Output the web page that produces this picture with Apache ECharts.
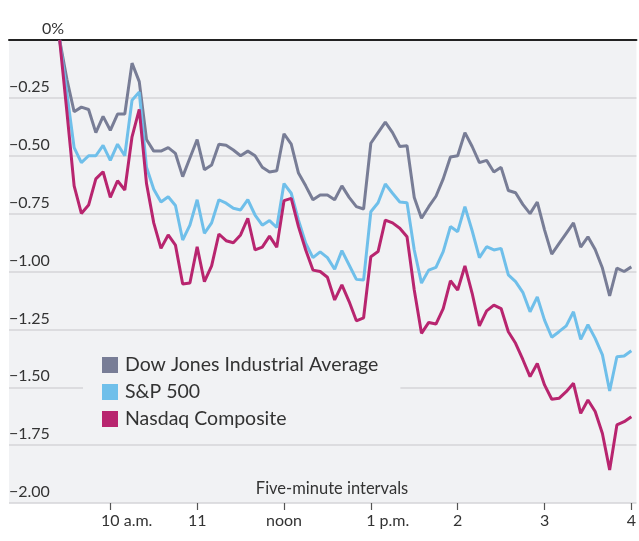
<!DOCTYPE html>
<html>
<head>
<meta charset="utf-8">
<style>
html,body{margin:0;padding:0;background:#fff;}
#chart{width:639px;height:541px;}
</style>
<script src="https://cdn.jsdelivr.net/npm/echarts@6/dist/echarts.min.js"></script>
</head>
<body>
<div id="chart"></div>
<script>
// Five-minute interval index: -1 = previous close, 0 = 9:30, ..., 78 = 4:00 p.m.
const seriesNames = ['Dow Jones Industrial Average', 'S&P 500', 'Nasdaq Composite'];
const dow = [0,-0.17,-0.31,-0.29,-0.30,-0.40,-0.33,-0.39,-0.32,-0.32,
  -0.10,-0.18,-0.43,-0.48,-0.48,-0.465,-0.49,-0.59,-0.51,-0.43,
  -0.56,-0.54,-0.45,-0.455,-0.475,-0.50,-0.48,-0.50,-0.55,-0.57,
  -0.565,-0.405,-0.45,-0.575,-0.63,-0.69,-0.67,-0.67,-0.69,-0.63,
  -0.68,-0.72,-0.73,-0.446,-0.40,-0.355,-0.40,-0.46,-0.457,-0.68,
  -0.77,-0.72,-0.675,-0.60,-0.505,-0.50,-0.40,-0.46,-0.53,-0.52,
  -0.57,-0.55,-0.65,-0.66,-0.71,-0.75,-0.70,-0.82,-0.925,-0.88,
  -0.835,-0.79,-0.895,-0.85,-0.905,-0.985,-1.105,-0.985,-1.0,-0.98];
const sp500 = [0,-0.23,-0.465,-0.53,-0.50,-0.50,-0.455,-0.52,-0.45,-0.50,
  -0.26,-0.225,-0.55,-0.645,-0.70,-0.677,-0.715,-0.864,-0.80,-0.69,
  -0.835,-0.79,-0.69,-0.705,-0.727,-0.734,-0.69,-0.756,-0.80,-0.78,
  -0.81,-0.62,-0.662,-0.778,-0.878,-0.94,-0.915,-0.94,-0.99,-0.91,
  -0.972,-1.034,-1.037,-0.742,-0.703,-0.622,-0.662,-0.70,-0.703,-0.907,
  -1.05,-0.994,-0.982,-0.914,-0.806,-0.828,-0.72,-0.824,-0.94,-0.893,
  -0.907,-0.90,-1.015,-1.044,-1.09,-1.174,-1.11,-1.21,-1.284,-1.26,
  -1.235,-1.174,-1.293,-1.23,-1.289,-1.36,-1.516,-1.368,-1.365,-1.342];
const nasdaq = [0,-0.31,-0.63,-0.749,-0.713,-0.60,-0.569,-0.68,-0.608,-0.648,
  -0.418,-0.30,-0.62,-0.79,-0.90,-0.842,-0.886,-1.054,-1.05,-0.893,
  -1.044,-0.976,-0.838,-0.867,-0.876,-0.842,-0.77,-0.907,-0.895,-0.847,
  -0.895,-0.694,-0.684,-0.806,-0.907,-0.994,-1.0,-1.025,-1.123,-1.058,
  -1.13,-1.213,-1.20,-0.936,-0.914,-0.778,-0.79,-0.813,-0.85,-1.08,
  -1.267,-1.22,-1.227,-1.16,-1.04,-1.08,-0.976,-1.094,-1.235,-1.17,
  -1.145,-1.16,-1.26,-1.31,-1.38,-1.454,-1.397,-1.49,-1.552,-1.548,
  -1.519,-1.483,-1.613,-1.555,-1.605,-1.70,-1.857,-1.663,-1.649,-1.627];
const tickIntervals = [6, 18, 30, 42, 54, 66, 78];
const tickLabels = ['10|a.m.', '11', 'noon', '1|p.m.', '2', '3', '4'];
const colors = ['#787d96', '#6fbfea', '#b8256f'];
const FONT = 'Lato';
const Y_MIN = -2, Y_MAX = 0;

function toPoints(arr){ return arr.map((v, i) => [i - 1, v]); }

const chart = echarts.init(document.getElementById('chart'), null, {renderer: 'canvas'});
const labelMap = {};
tickIntervals.forEach((t, i) => labelMap[t] = tickLabels[i]);

const tickMarks = tickIntervals.map(t => [
  {coord: [t, Y_MIN], symbol: 'none'},
  {coord: [t, Y_MIN - 0.03], symbol: 'none'}
]);

chart.setOption({
  animation: false,
  backgroundColor: '#ffffff',
  textStyle: {fontFamily: FONT},
  grid: {left: 9, right: 0, top: 40, bottom: 38, show: true, backgroundColor: '#f1f2f4', borderWidth: 0},
  legend: {
    data: seriesNames,
    orient: 'vertical',
    left: 83, top: 336,
    padding: [19, 22, 15, 19],
    itemGap: 7,
    itemWidth: 16, itemHeight: 16,
    icon: 'rect',
    backgroundColor: '#f1f2f4',
    textStyle: {fontFamily: FONT, fontSize: 19.5, color: '#333', padding: [0, 0, 0, 2]},
    selectedMode: false
  },
  graphic: [{
    type: 'text', x: 332, y: 480,
    style: {text: 'Five-minute intervals', fontFamily: FONT, fontSize: 16.5, fill: '#333', align: 'center', textAlign: 'center'}
  }],
  xAxis: [{
    type: 'value', min: -8, max: 78.7,
    splitLine: {show: false},
    axisLine: {show: true, onZero: false, lineStyle: {color: 'rgba(0,0,0,0)'}},
    axisTick: {show: true, inside: false, customValues: tickIntervals, length: 7, lineStyle: {color: '#555', width: 1.2}},
    axisLabel: {
      customValues: tickIntervals, margin: 10, color: '#333', fontSize: 16, fontFamily: FONT,
      formatter: v => {
        const s = labelMap[Math.round(v)];
        if (!s) return '';
        if (s.indexOf('|') >= 0) {
          const p = s.split('|');
          return '{h| ' + p[1] + '}' + p[0] + '{s| ' + p[1] + '}';
        }
        return s;
      },
      rich: {
        h: {color: 'rgba(0,0,0,0)', fontSize: 16, fontFamily: FONT},
        s: {color: '#333', fontSize: 16, fontFamily: FONT}
      }
    }
  }, {
    type: 'value', position: 'top', min: -8, max: 78.7,
    splitLine: {show: false},
    axisTick: {show: false}, axisLabel: {show: false},
    axisLine: {show: true, onZero: false, lineStyle: {color: '#222', width: 2}}
  }],
  yAxis: {
    type: 'value', min: Y_MIN, max: Y_MAX, interval: 0.25,
    axisLine: {show: false}, axisTick: {show: false},
    splitLine: {show: true, lineStyle: {color: '#d4d5d8', width: 1.5}},
    axisLabel: {
      inside: true, margin: 0, align: 'left', verticalAlign: 'bottom',
      padding: [0, 0, 3, 0], color: '#333', fontSize: 16, fontFamily: FONT,
      formatter: v => v === 0 ? '{z|0%}' : '\u2212' + Math.abs(v).toFixed(2),
      rich: {z: {padding: [0, 0, 0, 33], color: '#333', fontSize: 16, fontFamily: FONT}}
    }
  },
  series: [
    {name: seriesNames[0], type: 'line', data: toPoints(dow), showSymbol: false, symbol: 'none',
      lineStyle: {width: 3, color: colors[0]}, itemStyle: {color: colors[0]}},
    {name: seriesNames[1], type: 'line', data: toPoints(sp500), showSymbol: false, symbol: 'none',
      lineStyle: {width: 3, color: colors[1]}, itemStyle: {color: colors[1]}},
    {name: seriesNames[2], type: 'line', data: toPoints(nasdaq), showSymbol: false, symbol: 'none',
      lineStyle: {width: 3, color: colors[2]}, itemStyle: {color: colors[2]}},
    {name: 'ticks', type: 'line', data: [], clip: false, silent: true,
      markLine: {silent: true, symbol: 'none', label: {show: false}, animation: false,
        lineStyle: {color: '#555', width: 1.2, type: 'solid'}, data: tickMarks}}
  ]
});
</script>
</body>
</html>
